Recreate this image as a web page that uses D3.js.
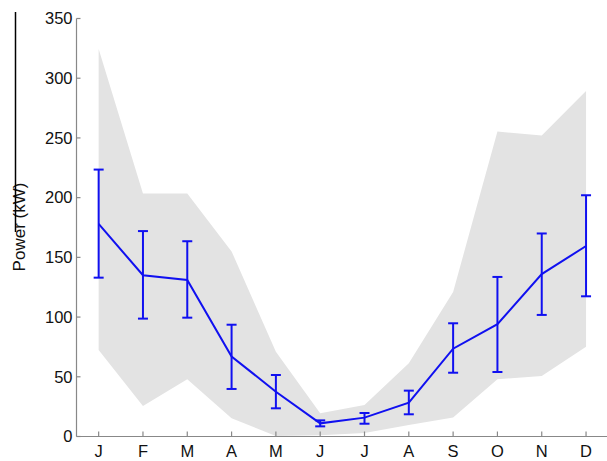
<!DOCTYPE html>
<html>
<head>
<meta charset="utf-8">
<script src="https://cdn.jsdelivr.net/npm/d3@7"></script>
<style>
  body { margin: 0; background: #fff; }
  svg { display: block; font-family: "Liberation Sans", Arial, sans-serif; }
</style>
</head>
<body>
<div id="root"></div>
<script>
// monthly data
const months = ["J","F","M","A","M","J","J","A","S","O","N","D"];
const meanPower = [178, 135, 131, 67, 37.5, 11, 15.8, 28.3, 73.5, 94, 136, 159.5];
const errUpper = [223.5, 172, 163.5, 93.6, 51.5, 13.5, 19.7, 38.4, 94.8, 133.6, 170, 202];
const errLower = [133, 98.7, 99.5, 39.8, 23.6, 8.5, 10.7, 18.6, 53.4, 54, 101.8, 117.4];
const maxPower = [324.5, 203.4, 203.4, 155, 71, 19.4, 26.4, 61.3, 121, 255.3, 252, 289.3];
const minPower = [72.4, 25.5, 47.9, 15.2, 0.5, 1, 3, 9.6, 16, 48, 50.7, 75.2];
const yTicks = [0, 50, 100, 150, 200, 250, 300, 350];

const W = 607, H = 461;
const idx = d3.range(1, 13);

const x = d3.scaleLinear().domain([0.5, 12.5]).range([76.5, 608.2]);
const y = d3.scaleLinear().domain([0, 350]).range([436.5, 18.5]);

const svg = d3.select('#root').append('svg')
  .attr('width', W).attr('height', H);

// min / max band
const area = d3.area()
  .x(i => x(i))
  .y0(i => y(minPower[i - 1]))
  .y1(i => y(maxPower[i - 1]));

svg.append('path')
  .datum(idx)
  .attr('d', area)
  .attr('fill', '#e3e3e3');

// axes
const blue = '#1010f0';
const axisCol = '#888';

svg.append('line')
  .attr('x1', x(0.5)).attr('x2', x(12.5))
  .attr('y1', y(0)).attr('y2', y(0))
  .attr('stroke', axisCol).attr('stroke-width', 1.2);
svg.append('line')
  .attr('x1', x(0.5)).attr('x2', x(0.5))
  .attr('y1', y(0)).attr('y2', y(350))
  .attr('stroke', axisCol).attr('stroke-width', 1.2);

// y ticks
const yt = svg.selectAll('.ytick').data(yTicks).enter().append('g')
  .attr('transform', d => `translate(${x(0.5)},${y(d)})`);
yt.append('line').attr('x1', 0).attr('x2', 4).attr('stroke', axisCol).attr('stroke-width', 1.2);
yt.append('text')
  .attr('x', -4).attr('dy', '0.35em')
  .attr('text-anchor', 'end')
  .attr('font-size', 16.5)
  .attr('fill', '#111')
  .text(d => d);

// x ticks
const xt = svg.selectAll('.xtick').data(idx).enter().append('g')
  .attr('transform', i => `translate(${x(i)},${y(0)})`);
xt.append('line').attr('y1', 0).attr('y2', -5).attr('stroke', axisCol).attr('stroke-width', 1.2);
xt.append('text')
  .attr('y', 20)
  .attr('text-anchor', 'middle')
  .attr('font-size', 16.5)
  .attr('fill', '#111')
  .text(i => months[i - 1]);

// y label
svg.append('text')
  .attr('transform', 'translate(25,227) rotate(-90)')
  .attr('text-anchor', 'middle')
  .attr('font-size', 17)
  .attr('fill', '#111')
  .text('Power (kW)');

svg.append('line')
  .attr('x1', 15.5).attr('x2', 15.5)
  .attr('y1', 12).attr('y2', 232)
  .attr('stroke', '#000').attr('stroke-width', 1.5);

// mean line
const line = d3.line()
  .x(i => x(i))
  .y(i => y(meanPower[i - 1]));

svg.append('path')
  .datum(idx)
  .attr('d', line)
  .attr('fill', 'none')
  .attr('stroke', blue)
  .attr('stroke-width', 2);

// error bars
const eb = svg.selectAll('.err').data(idx).enter().append('g')
  .attr('stroke', blue).attr('stroke-width', 2);
eb.append('line')
  .attr('x1', i => x(i)).attr('x2', i => x(i))
  .attr('y1', i => y(errLower[i - 1])).attr('y2', i => y(errUpper[i - 1]));
eb.append('line')
  .attr('x1', i => x(i) - 5).attr('x2', i => x(i) + 5)
  .attr('y1', i => y(errUpper[i - 1])).attr('y2', i => y(errUpper[i - 1]));
eb.append('line')
  .attr('x1', i => x(i) - 5).attr('x2', i => x(i) + 5)
  .attr('y1', i => y(errLower[i - 1])).attr('y2', i => y(errLower[i - 1]));
</script>
</body>
</html>
